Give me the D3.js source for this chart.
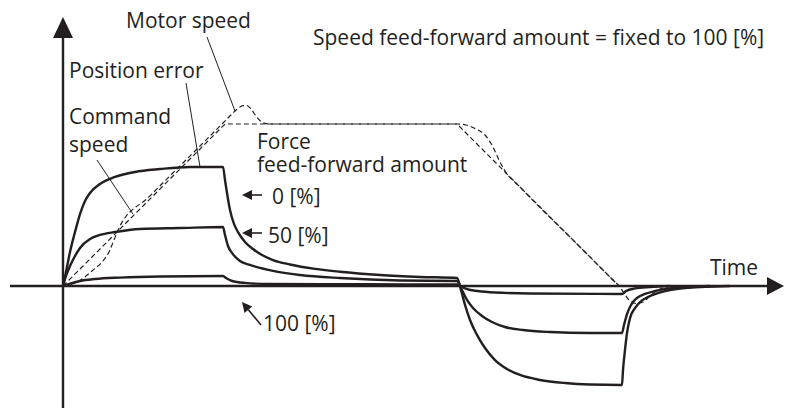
<!DOCTYPE html>
<html>
<head>
<meta charset="utf-8">
<script src="https://cdn.jsdelivr.net/npm/d3@7"></script>
<style>
  html, body { margin: 0; padding: 0; background: #fff; }
  svg { display: block; }
  text { font-family: "Open Sans", "Noto Sans", sans-serif; font-size: 21px; fill: #231f20; }
</style>
</head>
<body>
<svg id="chart" width="786" height="408"></svg>
<script>
// Time axis in ms, speed / error in % of the command plateau.
const commandSpeed = [[0, 0], [162, 100], [394, 100], [556, 0]];

const motorSpeed = [
  [0, 0], [9, 1.2], [19, 4.3], [29, 9.3], [39, 14.8], [46, 21], [51, 28.4], [56, 35.8],
  [87, 55.6], [137, 86.4], [159, 100], [169, 106.2], [175, 109.6], [180, 111.4], [184, 111.4],
  [188, 109.3], [193, 104.9], [199, 101.2], [206, 100],
  [394, 100], [403, 99.4], [413, 96.9], [422, 93.2], [430, 85.8], [436, 77.8], [442, 71],
  [457, 61.1], [517, 24.1], [549, 4.3], [556, 0], [561, -4.3], [566, -8.6], [573, -10.8],
  [580, -9.9], [587, -6.2], [595, -2.5], [605, -0.6], [617, 0]
];

// Position error for each force feed-forward amount
const error0 = [
  [0, 0], [3, 8.6], [7, 21], [12, 33.3], [17, 44.4], [22, 52.5], [27, 57.4], [37, 63],
  [52, 67.3], [72, 70.4], [97, 72.2], [127, 73.5], [160, 73.5],
  [162, 65.4], [164, 57.4], [167, 46.9], [171, 38.3], [175, 33.3], [182, 27.2], [190, 22.8],
  [199, 19.1], [210, 16], [227, 13.3], [252, 10.6], [277, 8.8], [317, 6.8], [357, 5.6], [394, 4.9],
  [398, -2.5], [402, -11.7], [407, -21], [414, -30.2], [422, -38.3], [432, -45.7], [444, -51.2],
  [457, -54.9], [477, -58], [502, -59.9], [527, -60.8], [559, -61.1],
  [560, -51.9], [562, -39.5], [564, -29], [567, -19.8], [572, -13.6], [577, -9.9], [585, -6.8],
  [594, -4.6], [607, -2.5], [622, -1.2], [642, -0.5], [667, 0]
];

const error50 = [
  [0, 0], [3, 6.2], [7, 12.3], [12, 18.5], [17, 23.5], [27, 29], [37, 31.5], [52, 33.3],
  [77, 35.2], [117, 35.8], [160, 36.4],
  [162, 31.5], [165, 24.7], [169, 20.4], [177, 15.4], [187, 13], [210, 9.3], [237, 6.8],
  [277, 4.9], [337, 3.4], [394, 3.1],
  [399, -2.5], [404, -8.6], [410, -13.6], [419, -18.5], [429, -22.2], [442, -25.3], [460, -27.2],
  [487, -28.4], [527, -29], [559, -29],
  [561, -24.1], [564, -17.3], [568, -11.7], [574, -7.4], [582, -4.9], [592, -3.1], [607, -1.5],
  [627, -0.6], [647, 0]
];

const error100 = [
  [0, 0], [7, 1.5], [17, 3.1], [32, 4.3], [57, 5.2], [97, 5.9], [160, 6.2],
  [163, 4.9], [169, 3.1], [182, 1.9], [207, 1.2], [394, 0.9],
  [397, 0], [404, -1.9], [415, -3.1], [432, -4], [467, -4.6], [559, -4.9],
  [563, -3.1], [572, -1.5], [587, -0.6], [607, 0]
];

const titleText = "Speed feed-forward amount = fixed to 100 [%]";
const commandLabel = ["Command", "speed"];
const forceLabels = ["Force", "feed-forward amount"];
const amountLabels = ["0 [%]", "50 [%]", "100 [%]"];

const ink = "#231f20";
const svg = d3.select("#chart");

const x = d3.scaleLinear().domain([0, 720]).range([63, 783]);
const y = d3.scaleLinear().domain([0, 100]).range([286, 124]);

const line = d3.line()
  .x(d => x(d[0]))
  .y(d => y(d[1]))
  .curve(d3.curveMonotoneX);

// Axes with arrow heads
const ox = x(0), oy = y(0);
svg.append("line")
  .attr("x1", 10).attr("y1", oy).attr("x2", 770).attr("y2", oy)
  .attr("stroke", ink).attr("stroke-width", 2.4);
svg.append("path")
  .attr("d", `M784,${oy} L767,${oy - 9} L767,${oy + 9} Z`)
  .attr("fill", ink);
svg.append("line")
  .attr("x1", ox).attr("y1", 408).attr("x2", ox).attr("y2", 36)
  .attr("stroke", ink).attr("stroke-width", 2.4);
svg.append("path")
  .attr("d", `M${ox},17 L${ox - 10},38 L${ox + 10},38 Z`)
  .attr("fill", ink);

// Command and motor speed (dashed)
[commandSpeed, motorSpeed].forEach(series => {
  svg.append("path")
    .datum(series)
    .attr("d", d3.line().x(d => x(d[0])).y(d => y(d[1]))
      .curve(series === commandSpeed ? d3.curveLinear : d3.curveMonotoneX))
    .attr("fill", "none")
    .attr("stroke", ink)
    .attr("stroke-width", 1.2)
    .attr("stroke-dasharray", "5,3");
});

// Position error curves
[error0, error50, error100].forEach(series => {
  svg.append("path")
    .datum(series)
    .attr("d", line)
    .attr("fill", "none")
    .attr("stroke", ink)
    .attr("stroke-width", 2.4)
    .attr("stroke-linejoin", "round");
});

// Leader lines from labels to curves
const leaders = [
  { from: [207, 37], to: [x(172), y(108)] },
  { from: [186, 83], to: [x(137), y(73.5)] },
  { from: [97, 160], to: [x(70), y(44.4)] }
];
leaders.forEach(l => {
  svg.append("line")
    .attr("x1", l.from[0]).attr("y1", l.from[1])
    .attr("x2", l.to[0]).attr("y2", l.to[1])
    .attr("stroke", ink).attr("stroke-width", 1);
});

// Small pointer arrows
function pointer(tipX, tipY, tailX, tailY) {
  const a = Math.atan2(tailY - tipY, tailX - tipX);
  const len = 10, half = 5;
  const bx = tipX + Math.cos(a) * len, by = tipY + Math.sin(a) * len;
  const px = -Math.sin(a) * half, py = Math.cos(a) * half;
  svg.append("line")
    .attr("x1", bx).attr("y1", by).attr("x2", tailX).attr("y2", tailY)
    .attr("stroke", ink).attr("stroke-width", 1.6);
  svg.append("path")
    .attr("d", `M${tipX},${tipY} L${bx + px},${by + py} L${bx - px},${by - py} Z`)
    .attr("fill", ink);
}
pointer(242, 195, 262, 195);
pointer(242, 233, 262, 233);
pointer(242, 302, 261, 325);

// Single-line labels
const texts = [
  { t: "Motor speed", x: 126, y: 28 },
  { t: titleText, x: 313, y: 45 },
  { t: "Position error", x: 69, y: 78 },
  { t: amountLabels[0], x: 272, y: 204 },
  { t: amountLabels[1], x: 268, y: 243 },
  { t: amountLabels[2], x: 263, y: 331 },
  { t: "Time", x: 710, y: 275 }
];
texts.forEach(d => {
  svg.append("text").attr("x", d.x).attr("y", d.y).text(d.t);
});

// Two-line labels
function block(lines, x0, y0, step) {
  const t = svg.append("text").attr("x", x0).attr("y", y0);
  lines.forEach((s, i) => {
    t.append("tspan").attr("x", x0).attr("dy", i === 0 ? 0 : step).text(s);
  });
}
block(commandLabel, 69, 124, 28);
block(forceLabels, 257, 149, 23);
</script>
</body>
</html>
